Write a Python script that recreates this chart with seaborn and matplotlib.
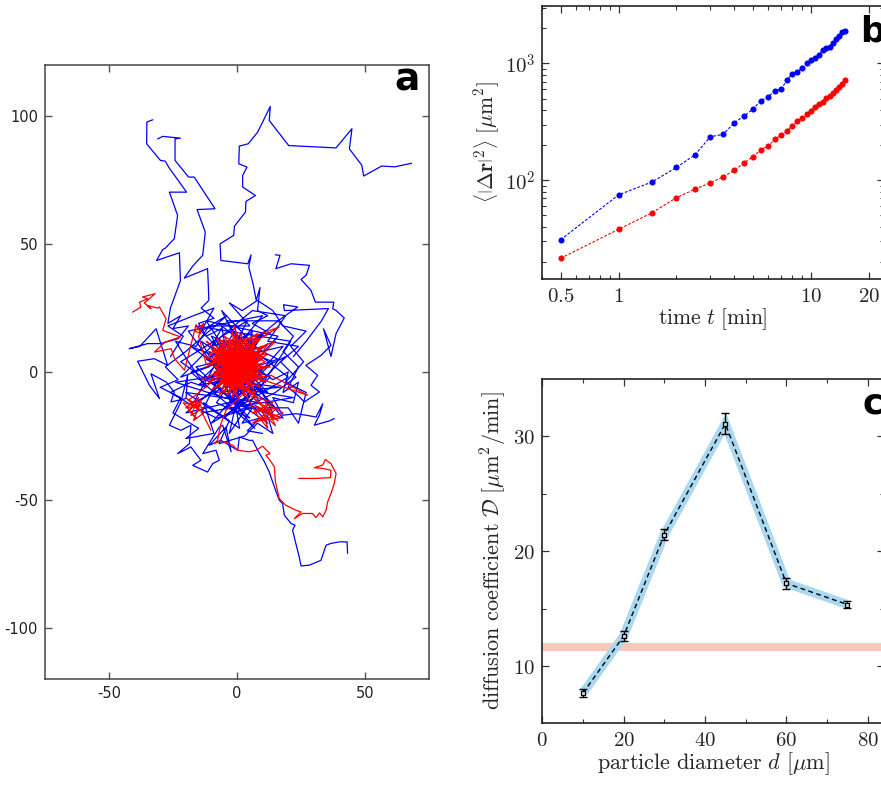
import numpy as np
import pandas as pd
import matplotlib
matplotlib.use("Agg")
import matplotlib.pyplot as plt
import seaborn as sns

# ---------------- panel a: trajectories (x, y in um) ----------------
blue_tracks = [
    # left branch going up
    [(-32.9, 98.6), (-35.2, 97.7), (-35.3, 89.2), (-29.9, 82.7), (-28.0, 82.4), (-26.7, 80.1),
     (-19.7, 70.3), (-26.4, 70.3), (-23.2, 61.2), (-24.5, 52.1), (-28.0, 48.4), (-29.0, 47.9),
     (-31.4, 43.6), (-22.5, 46.6), (-22.1, 35.7), (-26.0, 25.0), (-27.0, 19.0), (-22.0, 22.0),
     (-25.0, 17.0), (-19.0, 18.0), (-23.0, 13.0), (-29.9, 11.1), (-34.9, 11.1), (-42.1, 9.1),
     (-38.0, 10.0), (-31.6, 16.9), (-27.1, 2.6), (-32.3, 5.2), (-38.8, 4.2), (-34.2, -5.2),
     (-30.3, -10.4), (-33.6, -0.7), (-27.7, -3.9), (-24.5, -7.8), (-25.8, -11.7), (-19.9, -10.4),
     (-19.3, -1.3), (-21.9, -11.7), (-26.4, -20.8), (-21.9, -22.8), (-18.0, -20.8), (-18.6, -28.0),
     (-23.2, -31.9), (-18.0, -29.3), (-14.1, -34.5), (-17.3, -36.5), (-11.5, -39.1), (-9.5, -35.8),
     (-6.9, -34.5), (-8.2, -30.6), (-13.4, -31.9), (-6.9, -21.5), (-5.6, -20.8), (-2.3, -31.2),
     (-4.3, -21.5), (-10.8, -28.6), (-6.3, -26.7), (0.3, -30.6), (0.9, -25.4), (4.8, -26.7),
     (6.1, -26.7), (8.1, -30.6), (10.7, -35.1), (12.6, -39.1), (14.6, -44.9), (16.5, -50.1),
     (17.8, -51.4), (18.5, -56.0), (21.1, -59.2), (22.7, -59.9), (21.7, -61.8), (23.0, -67.1),
     (24.3, -72.3), (25.0, -75.8), (28.3, -75.5), (32.8, -73.6), (34.8, -67.7), (36.7, -67.0),
     (40.0, -66.4), (43.0, -66.4), (43.2, -70.9)],
    # second left branch
    [(-31.0, 91.1), (-29.0, 92.1), (-22.1, 91.4), (-24.2, 91.1), (-24.2, 82.7), (-18.9, 76.2),
     (-16.7, 76.2), (-8.6, 63.8), (-15.6, 63.5), (-12.4, 54.7), (-13.4, 45.6), (-17.3, 41.4),
     (-20.6, 36.7), (-11.5, 40.4), (-11.2, 33.9), (-11.0, 28.0), (-14.0, 25.0), (-9.0, 21.0),
     (-15.0, 19.0), (-12.0, 14.0), (-6.0, 17.0), (-10.0, 10.0), (-3.0, 12.0), (-8.0, 6.0),
     (-2.0, 4.0), (-6.0, -2.0), (2.0, -6.0), (-4.0, -9.0), (3.0, -12.0), (-2.0, -16.0),
     (6.0, -14.0), (2.0, -20.0), (9.0, -18.0), (4.0, -23.0), (10.0, -24.0)],
    # middle branch with the highest excursion
    [(68.2, 81.6), (61.7, 80.2), (56.5, 80.5), (49.5, 76.6), (48.7, 80.9), (43.9, 87.2),
     (44.9, 95.1), (38.7, 87.6), (20.2, 88.5), (12.6, 98.3), (13.0, 103.8), (8.1, 93.8),
     (4.4, 89.2), (0.9, 88.3), (0.7, 81.4), (3.9, 80.1), (2.2, 76.8), (2.2, 72.3), (7.2, 69.0),
     (3.5, 66.7), (3.3, 62.5), (-1.0, 57.0), (-1.3, 53.4), (-6.6, 50.1), (-6.3, 43.6),
     (4.2, 42.3), (5.5, 45.8), (4.6, 41.0), (6.4, 33.9), (7.5, 28.0), (9.0, 33.0), (8.0, 24.0),
     (12.0, 22.0), (6.0, 19.0), (13.0, 15.0), (4.0, 12.0), (10.0, 8.0), (16.0, 5.0), (7.0, 2.0),
     (14.0, -3.0), (20.0, 0.0), (18.0, -8.0), (24.0, -4.0), (22.0, -12.0), (14.0, -10.0),
     (17.8, -16.9), (23.0, -16.3), (27.0, -16.9), (30.9, -17.6), (33.5, -12.4), (32.2, -16.9),
     (30.2, -20.8), (36.1, -19.1), (38.0, -18.2)],
    # right branch
    [(15.0, 45.8), (16.8, 45.6), (15.2, 40.4), (21.1, 42.3), (28.3, 41.7), (27.0, 37.8),
     (25.0, 36.2), (28.9, 31.9), (30.6, 27.3), (37.8, 27.3), (37.4, 24.7), (38.7, 24.1),
     (41.9, 21.1), (38.7, 15.0), (36.7, 6.1), (33.8, 16.9), (36.7, 10.4), (32.8, 6.5),
     (26.9, 2.6), (31.5, -1.3), (28.9, -5.2), (32.2, -7.8), (26.3, -11.7), (23.7, -9.1),
     (20.0, -6.0), (24.0, 2.0), (18.0, 8.0), (22.0, 14.0), (16.0, 20.0), (23.7, 25.4),
     (18.2, 26.3), (18.5, 24.0), (35.7, 24.8), (33.0, 20.0), (27.0, 12.0), (22.0, 6.0)],
    # central tangle
    [(-5, 3), (4, 8), (-8, -4), (10, 2), (-2, -10), (6, -6), (-12, 5), (3, 14), (-6, 10),
     (12, -8), (0, -3), (-15, -5), (8, 12), (-4, -14), (14, 4), (-10, 14), (2, -8), (18, 10),
     (-16, 2), (5, -18), (-8, -12), (11, 16), (-3, 6), (15, -14), (-18, 10), (7, 0), (-10, -20),
     (20, -2), (-6, 18), (1, -22), (-20, -8), (9, -12), (-12, 20), (16, 14), (-2, -6), (22, -10),
     (-14, -16), (4, 20), (-22, 4), (12, -20), (-7, 2), (8, 5), (-1, 16), (-17, -12), (19, 6),
     (-5, -18), (13, -2), (-11, 8), (3, -14), (-19, 16), (10, 22), (0, 10), (-9, -8), (17, -6),
     (-13, -2), (6, 16), (-3, -24), (21, 12), (-16, 18), (2, 0), (-24, -4), (14, -16), (-6, 24),
     (9, 8), (-20, -16), (5, -10), (-8, 12), (18, -18), (-1, -12), (-14, 12), (11, -4), (-4, 20),
     (16, 20), (-10, -2), (7, -22), (-18, 0), (1, 6)],
    # second tangle around the core
    [(-26, 6), (-21, 14), (-27, 18), (-17, 22), (-9, 25), (-14, 16), (-4, 22), (-20, 8),
     (-28, 2), (-23, -3), (-30, -6), (-22, -10), (-25, -16), (-15, -22), (-20, -26), (-9, -24),
     (-13, -12), (-3, -19), (-7, -28), (3, -25), (8, -20), (14, -24), (11, -14), (20, -14),
     (24, -20), (27, -8), (19, -4), (26, 4), (21, 10), (27, 16), (18, 18), (14, 24), (8, 28),
     (2, 24), (-3, 27), (5, 18), (-11, 18), (-16, 10), (-24, 12), (-19, 4), (-12, -6),
     (-18, -4), (-26, -8), (-16, -14), (-8, -18), (-1, -16), (7, -12), (15, -8), (23, -2),
     (17, 4), (24, 10), (12, 12), (19, 22), (6, 24), (-6, 14), (-14, 6), (-22, -2), (-11, 2)],
]

red_tracks = [
    # upper-left excursion
    [(-40.8, 23.4), (-37.5, 25.4), (-38.1, 27.3), (-34.9, 28.6), (-36.9, 29.3), (-32.0, 30.6),
     (-36.2, 27.0), (-33.6, 24.7), (-35.0, 26.0), (-31.0, 25.0), (-30.3, 25.4), (-27.7, 20.8),
     (-29.0, 16.3), (-22.1, 13.7), (-28.1, 11.7), (-32.2, 7.8), (-25.7, 9.1), (-24.4, 5.2),
     (-20.5, 0.7), (-16.0, 18.5), (-14.0, 15.0), (-16.5, 16.0), (-13.0, 19.0), (-15.0, 14.0)],
    # dense central cloud
    [(-15.0, 14.0), (-12, 3), (-4, 6), (3, -2), (-6, -3), (5, 8), (-2, 12), (8, 3), (-8, 5),
     (2, -6), (-5, 9), (7, -3), (-3, 1), (6, 10), (-9, -1), (4, 4), (-1, -8), (9, 6), (-7, 11),
     (1, 0), (-4, -5), (10, -1), (-2, 7), (5, -7), (-10, 3), (3, 13), (-6, -7), (8, 8), (0, 4),
     (-8, 10), (6, -5), (-3, -2), (11, 4), (-5, 14), (2, 2), (-11, -4), (7, 12), (-1, -4),
     (4, 7), (-7, 1), (9, -6), (-2, 16), (3, -9), (-6, 6), (12, 7), (0, -1), (-9, 8), (5, 3),
     (-4, -9), (8, 15), (-12, 2), (1, 9), (6, -1), (-3, 5), (10, 10), (-7, -5), (2, 6),
     (-1, 18), (4, -4), (-8, -2), (13, 2), (-5, 3), (0, 11), (7, 5), (-10, 9), (3, -6), (-2, 2),
     (9, 13), (-6, 12), (5, 0), (-4, -1), (1, -11), (-9, 4), (8, -2), (-1, 8), (11, -4),
     (-13, 6), (3, 3), (-5, -8), (6, 14), (0, 0), (-7, 9), (16.5, 17.6), (4, 10), (-3, -4),
     (13.3, -1.3), (27.6, -9.1), (10, -3), (-2, 4), (7, 7), (-8, 13), (2, -3), (-14, -3),
     (5, 5), (-6, 2), (9, 1), (-3, 10), (1, -7), (12, 11), (-10, -7), (4, 1), (-1, 5), (7, -8),
     (-5, -4), (2, 15), (-11, 7), (6, 2), (0, -5), (-4, 12), (10, 6), (-7, -9), (3, 8),
     (-2, -1), (8, -10), (-9, 0), (1, 4), (6, 9), (-3, -6), (15, 12), (-6, 4), (3, -1),
     (-12, 12), (5, -3), (0, 7), (-8, -6), (9, 9), (-2, -10), (4, 12), (-5, 0)],
    # the very dense core
    [(-5, 0), (2, 5), (-3, -3), (6, 1), (-7, 4), (1, -2), (4, 9), (-2, 3), (8, -1), (-6, 7),
     (3, -4), (-1, 10), (7, 4), (-8, 1), (2, 0), (-4, 6), (9, 3), (0, -4), (-6, -1), (5, 7),
     (-2, 9), (7, -4), (-9, 5), (1, 3), (4, -2), (-3, 8), (8, 6), (-5, -5), (3, 11), (-1, 1),
     (6, -3), (-7, 9), (2, 7), (-4, -2), (9, 0), (-2, 5), (5, -5), (-8, 7), (0, 2), (4, 10),
     (-6, 3), (7, 8), (-1, -6), (3, 4), (-5, 11), (8, -3), (-3, 0), (1, 8), (-9, 2), (6, 5),
     (-2, -4), (4, 2), (-7, 6), (0, 12), (5, -1), (-4, 4), (10, 5), (-1, -1), (3, 9), (-6, -4),
     (7, 2), (-3, 7), (2, -5), (-8, 0), (5, 11), (0, 6), (-5, 8), (8, 1), (-2, -2), (4, 6),
     (-7, -2), (6, 9), (-1, 3), (3, -3), (-4, 10), (9, 7), (1, 1), (-6, 5), (5, 4), (-3, -5),
     (2, 10), (-9, 6), (7, -2), (0, 8), (-5, 2), (4, -1), (-2, 11), (8, 4), (-7, 8), (1, -3),
     (6, 6), (-4, 1), (3, 5), (-1, 7), (5, 2), (-6, 10), (2, -1), (-3, 4), (7, 10), (0, -2),
     (-8, 4), (4, 8), (-2, 0), (6, -6), (-5, 6), (1, 5)],
    # lower-right patch
    [(-5, 0), (8, -10), (14, -12), (6, -16), (16, -14), (9, -19), (17, -18), (7, -13),
     (15, -21), (11, -12), (18, -16), (6, -20), (13, -15), (5, -9), (16, -19), (10, -15),
     (12, -22), (8, -17), (3, -8)],
    # lower-left patch
    [(-10, -4), (-16, -9), (-19, -11), (-14, -13), (-20, -14), (-15, -10), (-18, -17),
     (-13, -14), (-21, -12), (-16, -18), (-19, -15), (-14, -11), (-17, -19), (-13, -16),
     (-20, -10), (-15, -15), (-14.1, -15.0), (-10.2, -22.8)],
    # long tail to the lower right
    [(3, -8), (-4.3, -15.0), (-6.3, -20.2), (-7.6, -26.7), (-8.9, -28.0), (-6.3, -26.9),
     (-1.7, -28.6), (0.3, -30.6), (4.8, -31.2), (7.4, -30.6), (10.0, -29.0), (12.9, -31.9),
     (11.3, -32.5), (13.3, -35.1), (14.6, -37.1), (15.0, -42.9), (16.5, -49.5), (19.1, -52.1),
     (23.0, -54.0), (25.0, -54.7), (22.4, -57.3), (25.6, -55.3), (29.5, -55.3), (30.8, -56.9),
     (32.2, -55.1), (33.5, -56.6), (34.8, -54.0), (35.4, -50.8), (36.7, -47.5), (38.0, -43.6),
     (38.7, -39.7), (36.7, -35.8), (34.5, -34.2), (33.5, -36.4), (30.2, -37.4), (33.5, -37.7),
     (36.7, -38.4), (36.5, -41.3), (30.9, -41.6), (24.1, -41.6)],
]

# ---------------- panel b: mean squared displacement ----------------
time_min = [0.5, 1, 1.5, 2, 2.5, 3, 3.5, 4, 4.5, 5, 5.5, 6, 6.5, 7, 7.5,
            8, 8.5, 9, 9.5, 10, 10.5, 11, 11.5, 12, 12.5, 13, 13.5, 14, 14.5, 15]
msd_blue = [31, 75, 97, 129, 165, 236, 247, 311, 355, 407, 480, 519, 584, 600, 716,
            815, 847, 910, 1000, 1067, 1117, 1178, 1300, 1343, 1387, 1483, 1613, 1720, 1862, 1900]
msd_red = [21.5, 38, 53, 71, 84, 95, 107, 122, 141, 159, 182, 198, 224, 244, 264,
           293, 319, 343, 366, 395, 426, 447, 470, 505, 530, 560, 590, 625, 665, 715]

# ---------------- panel c: diffusion coefficient ----------------
diameter = [10, 20, 30, 45, 60, 75]
diff_coef = [7.63, 12.6, 21.45, 31.1, 17.2, 15.35]
diff_err = [0.35, 0.45, 0.5, 0.9, 0.5, 0.3]
ref_band = (11.3, 12.0)

sns.set_theme(style="ticks")
plt.rcParams["mathtext.fontset"] = "cm"
plt.rcParams["axes.unicode_minus"] = False
plt.rcParams["font.family"] = ["DejaVu Sans"]

W, H = 881, 787
fig = plt.figure(figsize=(W / 100, H / 100), dpi=100)


def box(l, t, r, b):
    return [l / W, 1 - b / H, (r - l) / W, (b - t) / H]


# ---- a ----
ax_a = fig.add_axes(box(45, 65, 429, 679))
rows = []
for i, tr in enumerate(blue_tracks):
    for j, (x, y) in enumerate(tr):
        rows.append(("blue", i, j, x, y))
for i, tr in enumerate(red_tracks):
    for j, (x, y) in enumerate(tr):
        rows.append(("red", i, j, x, y))
traj = pd.DataFrame(rows, columns=["size", "track", "step", "x", "y"])
for col in ["blue", "red"]:
    sub = traj[traj["size"] == col]
    sns.lineplot(data=sub, x="x", y="y", units="track", estimator=None, sort=False,
                 color=col, lw=0.9, ax=ax_a)
ax_a.set_xlim(-75, 75)
ax_a.set_ylim(-120, 120)
ax_a.set_xticks([-50, 0, 50])
ax_a.set_yticks([-100, -50, 0, 50, 100])
ax_a.set_xlabel("")
ax_a.set_ylabel("")
ax_a.tick_params(direction="in", length=5, width=1, top=True, right=True,
                 color="#555555", labelcolor="#222222", labelsize=10.5, pad=5)
for s in ax_a.spines.values():
    s.set_color("#444444")
    s.set_linewidth(1.1)
ax_a.text(0.977, 0.958, "a", transform=ax_a.transAxes, ha="right", va="baseline",
          fontsize=27, fontweight="bold", color="black")

# ---- b ----
ax_b = fig.add_axes(box(542, 6, 884, 279))
msd = pd.DataFrame({"t": time_min * 2, "msd": msd_blue + msd_red,
                    "size": ["blue"] * len(time_min) + ["red"] * len(time_min)})
for col in ["blue", "red"]:
    sub = msd[msd["size"] == col]
    sns.lineplot(data=sub, x="t", y="msd", color=col, lw=0.8, dashes=False,
                 linestyle=(0, (2.5, 1.5)), marker="o", markersize=4.4,
                 markeredgewidth=0, ax=ax_b)
ax_b.set_xscale("log")
ax_b.set_yscale("log")
ax_b.set_xlim(0.4, 24)
ax_b.set_ylim(14.3, 3100)
ax_b.set_xticks([0.5, 1, 10, 20])
ax_b.set_xticklabels([r"$0.5$", r"$1$", r"$10$", r"$20$"])
ax_b.set_xticks([0.4, 0.6, 0.7, 0.8, 0.9, 2, 3, 4, 5, 6, 7, 8, 9], minor=True)
ax_b.set_xticklabels([], minor=True)
ax_b.set_yticks([100, 1000])
ax_b.set_yticklabels([r"$10^2$", r"$10^3$"])
ax_b.set_yticks([20, 30, 40, 50, 60, 70, 80, 90, 200, 300, 400, 500, 600, 700, 800, 900,
                 2000, 3000], minor=True)
ax_b.set_yticklabels([], minor=True)
ax_b.set_xlabel(r"$\mathrm{time}\ t\ [\mathrm{min}]$", fontsize=15.5, labelpad=0)
ax_b.set_ylabel(r"$\left\langle\left|\Delta\mathbf{r}\right|^{2}_{\ }\right\rangle\ [\mu\mathrm{m}^2]$",
                fontsize=15.5, labelpad=2)

# ---- c ----
ax_c = fig.add_axes(box(542.3, 379, 884, 723.3))
ax_c.axhspan(ref_band[0], ref_band[1], color="#fcc6bd", lw=0, zorder=1)
dc = pd.DataFrame({"d": diameter, "D": diff_coef, "err": diff_err})
sns.lineplot(data=dc, x="d", y="D", color="#a9d8f0", lw=6.5, ax=ax_c,
             solid_joinstyle="miter", solid_capstyle="butt", zorder=2)
sns.lineplot(data=dc, x="d", y="D", color="black", lw=1.0, ax=ax_c,
             linestyle=(0, (3.5, 2.5)), zorder=3)
ax_c.errorbar(dc["d"], dc["D"], yerr=dc["err"], fmt="none", ecolor="black",
              elinewidth=1.0, capsize=3, capthick=1.0, zorder=4)
sns.scatterplot(data=dc, x="d", y="D", marker="s", s=9, facecolor="#dddddd",
                edgecolor="black", linewidth=0.9, ax=ax_c, zorder=5)
ax_c.set_xlim(0, 84)
ax_c.set_ylim(5, 35)
ax_c.set_xticks([0, 20, 40, 60, 80])
ax_c.set_xticklabels([r"$0$", r"$20$", r"$40$", r"$60$", r"$80$"])
ax_c.set_xticks([10, 30, 50, 70], minor=True)
ax_c.set_yticks([10, 20, 30])
ax_c.set_yticklabels([r"$10$", r"$20$", r"$30$"])
ax_c.set_yticks([15, 25], minor=True)
ax_c.set_xlabel(r"$\mathrm{particle\ diameter}\ d\ [\mu\mathrm{m}]$", fontsize=16, labelpad=0)
ax_c.set_ylabel(r"$\mathrm{diffusion\ coefficient}\ \mathcal{D}\ [\mu\mathrm{m}^2/\mathrm{min}]$",
                fontsize=16, labelpad=3)

for ax in (ax_b, ax_c):
    ax.tick_params(which="both", direction="in", top=True, right=True, color="#333333",
                   labelsize=15, pad=5)
    ax.tick_params(which="major", length=5, width=0.9)
    ax.tick_params(which="minor", length=3, width=0.8)
    for s in ax.spines.values():
        s.set_color("#222222")
        s.set_linewidth(1.2)

fig.text(860 / W, 1 - 42 / H, "b", ha="left", va="baseline", fontsize=25,
         fontweight="bold", color="black")
fig.text(863 / W, 1 - 413 / H, "c", ha="left", va="baseline", fontsize=25,
         fontweight="bold", color="black")

fig.savefig("out.png", dpi=100, facecolor="white")
